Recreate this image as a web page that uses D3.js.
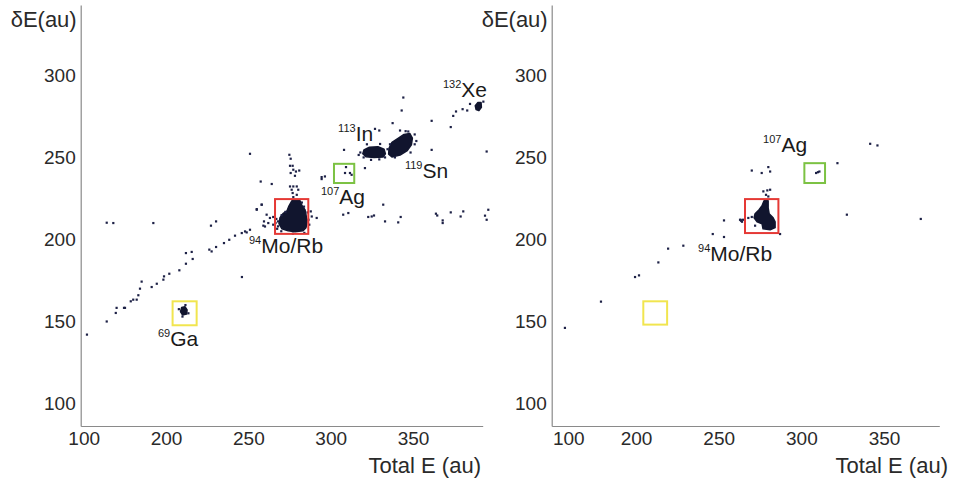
<!DOCTYPE html>
<html>
<head>
<meta charset="utf-8">
<script src="https://cdn.jsdelivr.net/npm/d3@7"></script>
<style>
  body { margin: 0; background: #fff; }
  svg { display: block; font-family: "Liberation Sans", Arial, sans-serif; }
</style>
</head>
<body>
<script>
// tick labels (the first label sits at the 150 position in the source figure)
var x_tick_labels = ['100', '200', '250', '300', '350'];
var left_x_ticks = [150, 200, 250, 300, 350];
var right_x_ticks = [159, 200, 250, 300, 350];
var y_ticks = [100, 150, 200, 250, 300];

// scattered events, left panel [total E, dE]
var left_points = [
  [152,142],[164,210.2],[168,210],[192.3,210],[164,150],[169.5,155.2],[170,158.3],[174.5,158.3],
  [175.1,158.3],[178.6,162.3],[180.1,163.3],[182.2,163.3],[183.2,166],[184.2,170],[185.2,174.3],
  [191.3,171],[194.4,173],[198.4,175.5],[198.8,177.5],[202,179.1],[208.1,181.2],[212.1,185.2],
  [216.2,188.1],[212.1,191.7],[215.6,192.4],[226.3,193.8],[227.7,192.7],[230.4,195.4],[235.2,197.8],
  [238.4,199.8],[241.9,202.3],[246,203.9],[249,204.3],[246.1,177.1],[255.1,218.5],[258.1,221.2],
  [227.3,208.4],[230.4,211],[259.1,208.4],
  // Ga fringe
  [207.8,157.5],[213.6,155],[210,153],[211.8,160],
  // around Mo/Rb
  [251,252.2],[274.9,251.6],[275.7,249.2],[275.3,244.9],[276.9,244.9],[277.3,242.5],[278.9,241.4],
  [280.9,242],[275.7,240.5],[278.3,238.8],[257.5,235.3],[264.2,233.8],[275.3,232.3],[277.3,232.3],
  [279.4,232.3],[276.3,230.3],[280.3,230.3],[276.9,228.3],[279.4,227.2],[277.3,225.8],[258.1,221.2],
  [255.1,218.1],[261.1,215.1],[263.1,213.1],[259.5,211],[262.1,210],[265.1,213.7],[265.1,209],
  [260.1,207.9],[251,205.9],[248,204.9],[288.5,214],[291.5,213.1],[287.9,217.1],[294.5,236.8],
  [266.5,210],[267,212.5],[268,208],[286.5,212],[287,209],[270,205],[284,204],[277,203.5],[267.5,206.5],
  [282.5,222.5],[283.8,220],[286,216.5],[272.5,216.8],[270.2,214.8],[268,211],
  // Ag
  [309.3,244.1],[308.7,240.5],[311.7,240.5],[312.7,239.4],[294.5,238],[296.5,238.4],[320.8,243.5],[308.1,254.6],
  // In / Sn / Xe surroundings
  [318,253],[320,250],[334.5,255],[317,251.5],[352,260],[351,264],[333,250],
  [322,258],[330,258.2],[324.5,248.5],[329.5,248.8],[336,258],[345.5,266],[351,258],[348.5,253],[339,250],
  [344.1,286.5],[343.1,278.6],[337.6,270.9],[342.1,266.4],[347.1,265.8],[326.9,267.4],[329.5,266.4],
  [361.3,272.3],[361.3,254.6],[372.9,268.5],[374.4,275.3],[376.1,278],[380.1,279.4],[382.9,278.6],
  [394.7,253.6],[384.6,282.6],[392.7,284],
  // horizontal band near 215
  [307.6,215.1],[310.7,216.1],[322.8,213.7],[324.9,214],[326.3,214.6],[331.9,221.2],[333,211],
  [341,210.4],[342.5,213.7],[363.9,215.7],[364.7,214.6],[368,211.6],[368,210],[372.9,216.5],
  [378.9,214],[380.5,217.1],[393.7,214.5],[394.7,212],[395.7,218.1]
];

// dense clusters, left panel (outline of the filled region)
var left_blobs = [
  [[209.5,158.5],[211.5,159],[212.8,157],[212.5,154.5],[210,154],[208.8,156]],
  [[276.5,223.6],[281.4,223.6],[282.6,220.5],[284.4,218.1],[285,215.1],[285.6,210.8],[285,207.2],
   [283.2,205.3],[278.3,204.7],[274.1,205.3],[270.4,206.5],[268.6,209.6],[269.2,213.2],[271,215.7],
   [273.5,217.5],[274.7,220.5]],
  [[320.2,254.6],[323.5,256.2],[328.7,256.5],[332.4,255],[333.2,252.2],[331.8,250.2],[326.3,250],
   [321.4,250.4],[319.5,252.2]],
  [[335.4,255.5],[337.2,259.2],[340.9,261.6],[344.5,264],[348,264.6],[349.6,261.8],[349,257.7],
   [346.5,254.2],[342.1,251.4],[337.2,250.3],[335.2,252]],
  [[387.8,281.5],[389.4,283.5],[391.3,283.5],[391.5,280.5],[390,278.5],[388.3,279.2]]
];

// scattered events, right panel
var right_points = [
  [157,146.1],[178.8,162.1],[199.4,177.1],[201.8,178.1],[213.5,186],[219.4,194.4],[228.6,196.2],
  [246.4,203.3],[253.2,201.5],[253.2,211.6],[263.5,211.4],[264.7,212],[264.1,210.8],[262.9,212],
  [263.3,211.9],[267.9,213.1],[270,213.7],[272,208.4],[287.1,203.3],
  [270,242],[276,240.5],[280,244.1],[281.1,241.4],[277,229.3],[279.4,229.9],[281.1,230.3],
  [278.6,227.2],[280,226.2],[308.9,240.5],[310.9,241.4],[310,241],
  [321.8,246.5],[327.5,215.1],[341.6,258.3],[346,257.3],[372.2,212.5]
];

var right_blobs = [
  [[277.4,223.6],[279.9,223.6],[279.9,219.3],[280.5,215.7],[282.9,213.2],[284.1,210.8],[284.1,207.2],
   [281.1,205.9],[276.8,206.5],[276.2,209.6],[273.2,210.8],[271.4,213.2],[272,215.7],[274.4,218.1],
   [276.2,220.5]]
];

// highlight boxes [x0, x1, y0, y1]
var left_boxes = [
  { ext: [204, 218.6, 147.7, 162.3], color: '#f1e54f' },
  { ext: [266.2, 286.4, 203.4, 224.6], color: '#e53935' },
  { ext: [302, 314.3, 234.4, 246.1], color: '#7cc243' }
];
var right_boxes = [
  { ext: [204.4, 218.8, 148.1, 162.3], color: '#f1e54f' },
  { ext: [265.9, 286.1, 203.9, 224.6], color: '#e53935' },
  { ext: [301.8, 314.3, 234.4, 246.5], color: '#7cc243' }
];

// isotope labels: mass number, element, anchor
var left_labels = [
  { sup: '69', name: 'Ga', x: 195.1, y: 135.3 },
  { sup: '94', name: 'Mo/Rb', x: 250.4, y: 191.9 },
  { sup: '107', name: 'Ag', x: 294.1, y: 221.8 },
  { sup: '113', name: 'In', x: 304.5, y: 259.8 },
  { sup: '119', name: 'Sn', x: 345.1, y: 237.6 },
  { sup: '132', name: 'Xe', x: 368.2, y: 286.9 }
];
var right_labels = [
  { sup: '107', name: 'Ag', x: 276.8, y: 253.4 },
  { sup: '94', name: 'Mo/Rb', x: 237.5, y: 187 }
];

var width = 954, height = 482;
var dot_color = '#1d2146';

var svg = d3.select('body').append('svg')
    .attr('width', width)
    .attr('height', height);

var y = d3.scaleLinear().domain([86.3, 342.9]).range([426, 5]);

function draw_panel(opts) {
    var x = d3.scaleLinear().domain(opts.domain).range(opts.range);
    var g = svg.append('g').attr('class', opts.id);

    g.append('g')
        .attr('transform', `translate(0, ${y.range()[0]})`)
        .call(d3.axisBottom(x)
            .tickValues(opts.xticks)
            .tickFormat(function(d, i) { return x_tick_labels[i]; })
            .tickSize(0)
            .tickPadding(6));

    g.append('g')
        .attr('transform', `translate(${x.range()[0]}, 0)`)
        .call(d3.axisLeft(y)
            .tickValues(y_ticks)
            .tickSize(0)
            .tickPadding(5));

    g.selectAll('.domain').attr('stroke', '#8a8a8a').attr('stroke-width', 1.2);
    g.selectAll('.tick text')
        .attr('fill', '#2a2a2a')
        .style('font-size', '19px')
        .style('font-family', '"Liberation Sans", Arial, sans-serif');

    g.append('text')
        .attr('x', x.range()[0] - 4)
        .attr('y', 27)
        .attr('text-anchor', 'end')
        .attr('fill', '#2a2a2a')
        .style('font-size', '22px')
        .text('\u03b4E(au)');

    g.append('text')
        .attr('x', opts.title_end)
        .attr('y', 473)
        .attr('text-anchor', 'end')
        .attr('fill', '#2a2a2a')
        .style('font-size', '22px')
        .text('Total E (au)');

    var blob_line = d3.line()
        .x(function(d) { return x(d[0]); })
        .y(function(d) { return y(d[1]); })
        .curve(d3.curveLinearClosed);

    g.append('g').selectAll('path')
        .data(opts.blobs).enter()
        .append('path')
        .attr('d', blob_line)
        .attr('fill', '#11152e')
        .attr('stroke', '#11152e')
        .attr('stroke-width', 1.5)
        .attr('stroke-linejoin', 'round');

    g.append('g').selectAll('rect')
        .data(opts.points).enter()
        .append('rect')
        .attr('x', function(d) { return x(d[0]) - 1.1; })
        .attr('y', function(d) { return y(d[1]) - 1.1; })
        .attr('width', 2.2)
        .attr('height', 2.2)
        .attr('fill', dot_color);

    g.append('g').selectAll('rect')
        .data(opts.boxes).enter()
        .append('rect')
        .attr('x', function(d) { return x(d.ext[0]); })
        .attr('y', function(d) { return y(d.ext[3]); })
        .attr('width', function(d) { return x(d.ext[1]) - x(d.ext[0]); })
        .attr('height', function(d) { return y(d.ext[2]) - y(d.ext[3]); })
        .attr('fill', 'none')
        .attr('stroke', function(d) { return d.color; })
        .attr('stroke-width', 2);

    var labels = g.append('g').selectAll('text')
        .data(opts.labels).enter()
        .append('text')
        .attr('x', function(d) { return x(d.x); })
        .attr('y', function(d) { return y(d.y); })
        .attr('fill', '#1a1a1a');
    labels.append('tspan')
        .attr('dy', -9)
        .style('font-size', '11px')
        .text(function(d) { return d.sup; });
    labels.append('tspan')
        .attr('dy', 9)
        .style('font-size', '21px')
        .text(function(d) { return d.name; });
}

draw_panel({
    id: 'left',
    domain: [148.2, 392.3],
    range: [80.7, 482.7],
    xticks: left_x_ticks,
    title_end: 481,
    points: left_points,
    blobs: left_blobs,
    boxes: left_boxes,
    labels: left_labels
});

draw_panel({
    id: 'right',
    domain: [149, 383.4],
    range: [551.7, 939.3],
    xticks: right_x_ticks,
    title_end: 948,
    points: right_points,
    blobs: right_blobs,
    boxes: right_boxes,
    labels: right_labels
});
</script>
</body>
</html>
